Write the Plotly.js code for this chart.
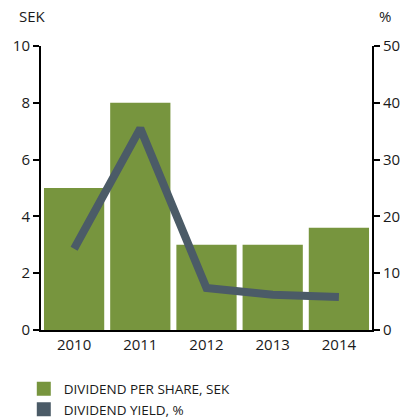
<!DOCTYPE html>
<html><head><meta charset="utf-8">
<script src="https://cdn.plot.ly/plotly-3.0.1.min.js"></script>
<style>html,body{margin:0;padding:0;background:#fff}#chart{width:403px;height:418px}</style>
</head><body><div id="chart"></div>
<script>
const years = ['2010','2011','2012','2013','2014'];
const dividendPerShare = [5, 8, 3, 3, 3.6];
const dividendYield = [14.3, 35.5, 7.4, 6.2, 5.8];
const leftTicks = [0, 2, 4, 6, 8, 10];
const rightTicks = [0, 10, 20, 30, 40, 50];

const green = '#77953e';
const slate = '#4b5b67';
const font = {family: 'Open Sans, sans-serif', size: 15, color: '#1a1a1a'};

const traces = [
  {type: 'bar', x: years, y: dividendPerShare, name: 'DIVIDEND PER SHARE, SEK',
   marker: {color: green, line: {width: 0}}, showlegend: false, hoverinfo: 'skip'},
  {type: 'scatter', mode: 'lines', x: years, y: dividendYield, yaxis: 'y2',
   line: {color: slate, width: 8}, showlegend: false, hoverinfo: 'skip'},
  {type: 'bar', x: years, y: dividendPerShare, name: 'DIVIDEND PER SHARE, SEK',
   marker: {color: green, line: {width: 2, color: green}}, visible: 'legendonly'},
  {type: 'bar', x: years, y: dividendYield, yaxis: 'y2', name: 'DIVIDEND YIELD, %',
   marker: {color: slate, line: {width: 2, color: slate}}, visible: 'legendonly'}
];

const layout = {
  width: 403, height: 418,
  margin: {l: 41, r: 31, t: 46, b: 88, autoexpand: false},
  paper_bgcolor: '#fff', plot_bgcolor: '#fff',
  font: font,
  barmode: 'overlay', bargap: 0.09,
  showlegend: true,
  legend: {x: -0.052, xanchor: 'left', y: -0.153, yanchor: 'top', orientation: 'v',
           font: {family: 'Open Sans, sans-serif', size: 13.5, color: '#1a1a1a'},
           tracegroupgap: 0, itemclick: false, bgcolor: 'rgba(0,0,0,0)'},
  xaxis: {type: 'category', range: [-0.5, 4.5], showline: true, linecolor: '#000', linewidth: 2,
          ticks: '', showgrid: false, zeroline: false, fixedrange: true, tickfont: font},
  yaxis: {range: [0, 10], tickvals: leftTicks, showline: true, linecolor: '#000', linewidth: 2,
          ticks: 'outside', ticklen: 6, tickwidth: 2, tickcolor: '#000', showgrid: false,
          zeroline: false, fixedrange: true, tickfont: font},
  yaxis2: {range: [0, 50], tickvals: rightTicks, overlaying: 'y', side: 'right', showline: true,
           linecolor: '#000', linewidth: 2, ticks: 'outside', ticklen: 6, tickwidth: 2,
           tickcolor: '#000', showgrid: false, zeroline: false, fixedrange: true, tickfont: font},
  annotations: [
    {text: 'SEK', xref: 'paper', yref: 'paper', x: -0.025, y: 1.105, xanchor: 'center', yanchor: 'middle',
     showarrow: false, font: font},
    {text: '%', xref: 'paper', yref: 'paper', x: 1.04, y: 1.105, xanchor: 'center', yanchor: 'middle',
     showarrow: false, font: font}
  ]
};

Plotly.newPlot('chart', traces, layout, {displayModeBar: false, staticPlot: true}).then(function (gd) {
  gd.querySelectorAll('.legend .traces').forEach(function (el) { el.style.opacity = 1; });
});
</script></body></html>
